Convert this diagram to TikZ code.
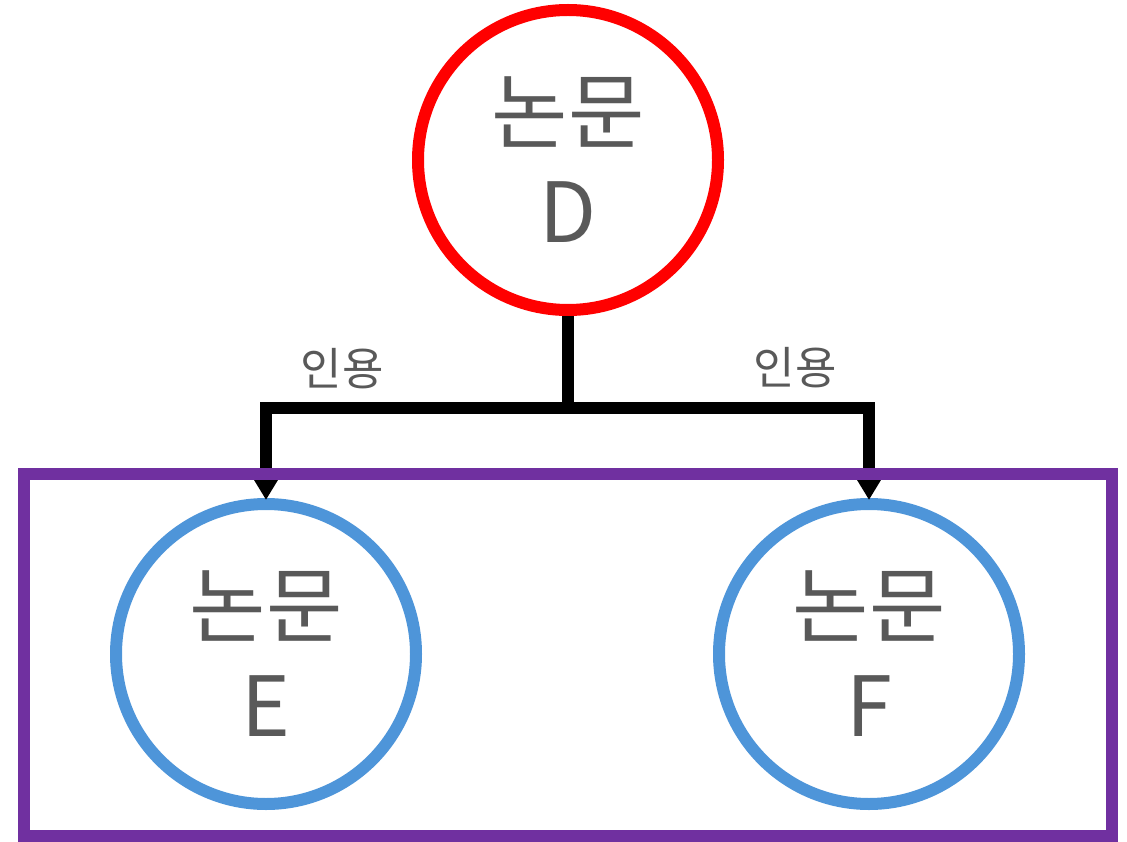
\documentclass[tikz,border=0pt]{standalone}
\usepackage{fontspec}
\setmainfont{Noto Sans CJK KR}
\usetikzlibrary{arrows.meta}
\definecolor{paperred}{HTML}{FF0000}
\definecolor{citeblue}{HTML}{4E95D9}
\definecolor{groupviolet}{HTML}{7030A0}
\definecolor{labelgray}{HTML}{595959}
\begin{document}
\begin{tikzpicture}[x=1pt,y=-1pt,
  paper/.style={circle, draw, line width=12pt, minimum size=300pt,
    inner sep=0pt, align=center, text=labelgray,
    font=\fontsize{83}{100}\selectfont},
  citing/.style={paper, draw=paperred},
  cited/.style={paper, draw=citeblue},
  citeline/.style={draw=black, line width=12pt, line join=miter},
  citearrow/.style={citeline, shorten >=-2pt,
    -{Triangle[width=27pt,length=24pt]}},
  citelabel/.style={text=labelgray, inner sep=0pt,
    font=\fontsize{45}{54}\selectfont},
  groupbox/.style={draw=groupviolet, line width=12pt}]
\useasboundingbox (0,0) rectangle (1127,842);

% papers
\node[citing] (D) at (568,160) {논문\\D};
\node[cited]  (E) at (266,654) {논문\\E};
\node[cited]  (F) at (869,654) {논문\\F};

% citation links
\coordinate (split) at (568,408);
\draw[citeline] (D.south) -- (split);
\draw[citearrow] (split) -| (E.north);
\draw[citearrow] (split) -| (F.north);

\node[citelabel] (l1) at (342,369) {인용};
\node[citelabel] (l2) at (795,368) {인용};

% group of cited papers
\draw[groupbox] (24,474) rectangle (1112,836);
\end{tikzpicture}
\end{document}
